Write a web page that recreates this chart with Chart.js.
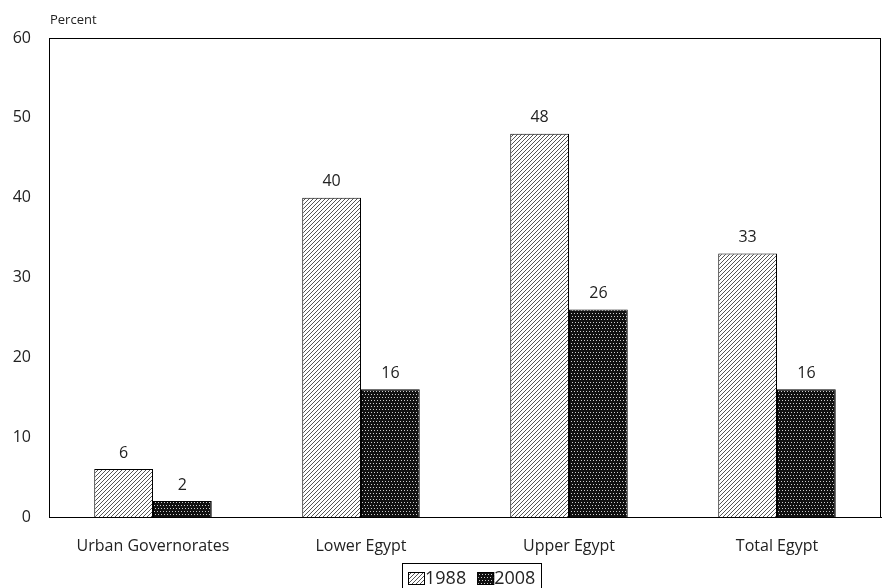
<!DOCTYPE html>
<html>
<head>
<meta charset="utf-8">
<script src="https://cdn.jsdelivr.net/npm/chart.js@4/dist/chart.umd.min.js"></script>
<style>
  html, body { margin: 0; padding: 0; background: #fff; }
  #wrap { width: 883px; height: 588px; }
</style>
</head>
<body>
<div id="wrap"><canvas id="chart" width="883" height="588"></canvas></div>
<script>
var categories = ["Urban Governorates", "Lower Egypt", "Upper Egypt", "Total Egypt"];
var values1988 = [6, 40, 48, 33];
var values2008 = [2, 16, 26, 16];
var yTicks = [0, 10, 20, 30, 40, 50, 60];
var fontFamily = "'Open Sans', 'Noto Sans', sans-serif";

function hatchPattern() {
    var c = document.createElement("canvas");
    c.width = 4; c.height = 4;
    var g = c.getContext("2d");
    g.fillStyle = "#fff";
    g.fillRect(0, 0, 4, 4);
    g.strokeStyle = "#555";
    g.lineWidth = 1;
    g.beginPath();
    g.moveTo(0, 4); g.lineTo(4, 0);
    g.moveTo(-1, 1); g.lineTo(1, -1);
    g.moveTo(3, 5); g.lineTo(5, 3);
    g.stroke();
    return g.createPattern(c, "repeat");
}

function dotPattern() {
    var c = document.createElement("canvas");
    c.width = 6; c.height = 6;
    var g = c.getContext("2d");
    g.fillStyle = "#111";
    g.fillRect(0, 0, 6, 6);
    g.fillStyle = "#ccc";
    g.fillRect(1, 1, 1, 1);
    g.fillRect(4, 1, 1, 1);
    g.fillRect(2, 4, 1, 1);
    g.fillRect(5, 4, 1, 1);
    return g.createPattern(c, "repeat");
}

var hatch = hatchPattern();
var dots = dotPattern();

// labels above bars, frame, y title, boxed legend
var extras = {
    id: "extras",
    afterDatasetsDraw: function(chart) {
        var ctx = chart.ctx;
        ctx.save();
        ctx.font = "16px " + fontFamily;
        ctx.fillStyle = "#222";
        ctx.textAlign = "center";
        ctx.textBaseline = "bottom";
        chart.data.datasets.forEach(function(ds, i) {
            chart.getDatasetMeta(i).data.forEach(function(bar, j) {
                ctx.fillText(ds.data[j], bar.x, bar.y - 8);
            });
        });
        var a = chart.chartArea;
        ctx.strokeStyle = "#000";
        ctx.lineWidth = 1;
        ctx.strokeRect(a.left + 0.5, a.top + 0.5, a.right - a.left - 1, a.bottom - a.top);
        ctx.textAlign = "left";
        ctx.font = "13px " + fontFamily;
        ctx.fillText("Percent", 50, 27);

        // legend
        ctx.font = "18px " + fontFamily;
        ctx.textBaseline = "middle";
        var items = chart.data.datasets;
        var sw = 17, sh = 13, gap = 11, inner = 6;
        var total = inner * 2 - gap;
        items.forEach(function(ds) { total += sw + ctx.measureText(ds.label).width + gap; });
        var left = Math.round((a.left + a.right) / 2 + 7 - total / 2);
        var top = 563, cy = 578;
        ctx.strokeRect(left + 0.5, top + 0.5, Math.round(total), 30);
        var x = left + inner;
        items.forEach(function(ds) {
            ctx.fillStyle = ds.backgroundColor;
            ctx.fillRect(x, cy - 6, sw, sh);
            ctx.strokeRect(x + 0.5, cy - 5.5, sw - 1, sh - 1);
            x += sw;
            ctx.fillStyle = "#222";
            ctx.fillText(ds.label, x, cy + 1);
            x += ctx.measureText(ds.label).width + gap;
        });
        ctx.restore();
    }
};

new Chart(document.getElementById("chart"), {
    type: "bar",
    data: {
        labels: categories,
        datasets: [
            { label: "1988", data: values1988, backgroundColor: hatch, borderColor: "#000", borderWidth: 1 },
            { label: "2008", data: values2008, backgroundColor: dots, borderColor: "#000", borderWidth: 1 }
        ]
    },
    options: {
        responsive: false,
        animation: false,
        layout: { padding: { top: 38, right: 2, left: 0, bottom: 22 } },
        plugins: {
            tooltip: { enabled: false },
            legend: { display: false }
        },
        datasets: { bar: { categoryPercentage: 0.565, barPercentage: 1 } },
        scales: {
            x: {
                grid: { display: false, drawTicks: false },
                border: { color: "#000" },
                ticks: { color: "#222", padding: 20, font: { family: fontFamily, size: 16 } },
                afterFit: function(s) { s.height = 49; }
            },
            y: {
                min: 0, max: 60,
                afterBuildTicks: function(s) { s.ticks = yTicks.map(function(v) { return { value: v }; }); },
                grid: { display: false, drawTicks: false },
                border: { color: "#000" },
                ticks: { color: "#222", padding: 18, font: { family: fontFamily, size: 16 } },
                afterFit: function(s) { s.width = 49; }
            }
        }
    },
    plugins: [extras]
});
</script>
</body>
</html>
